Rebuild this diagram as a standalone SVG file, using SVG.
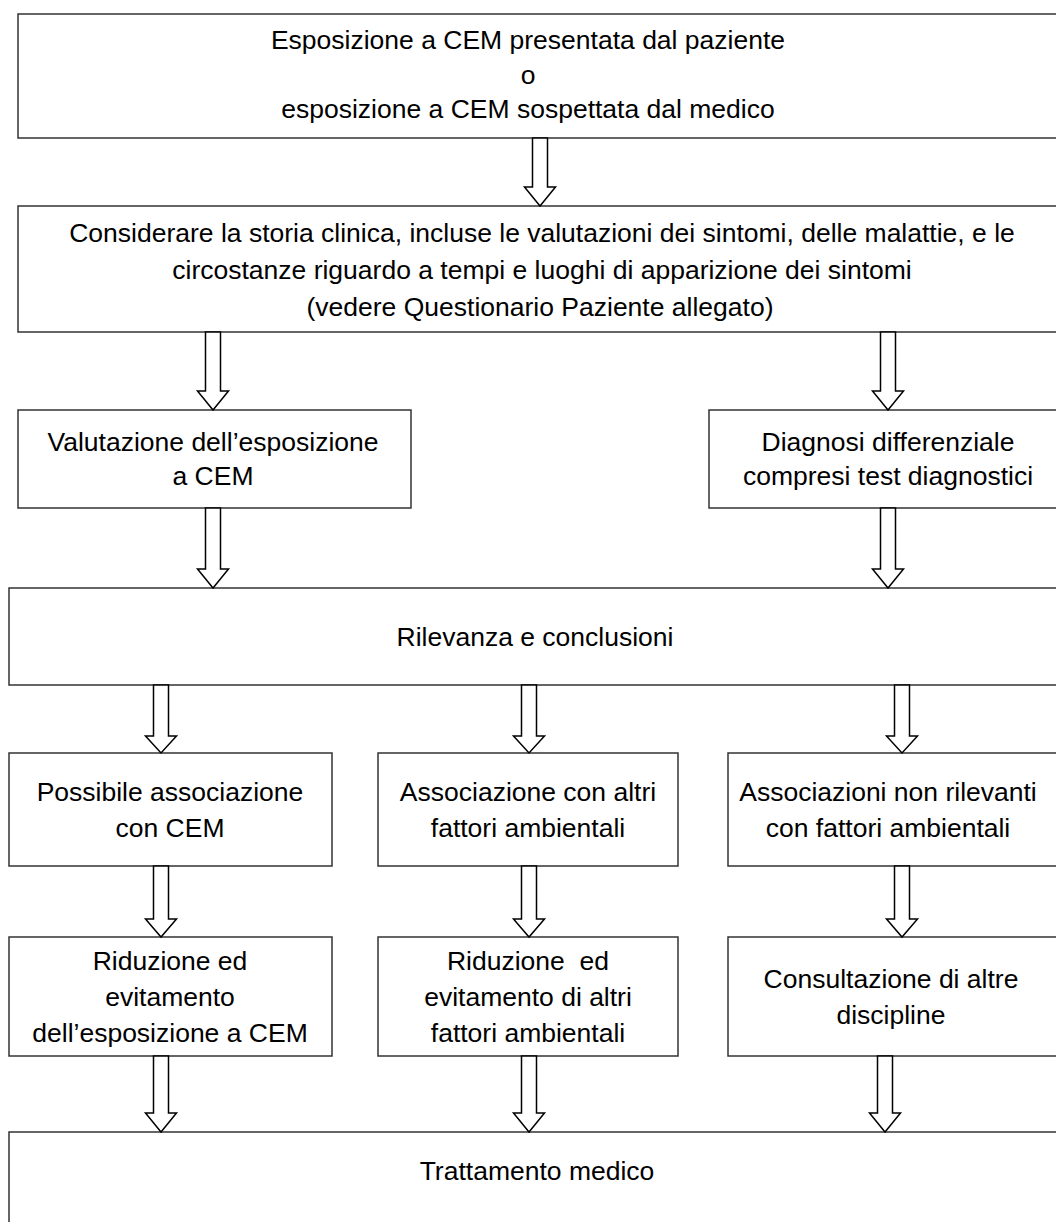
<svg xmlns="http://www.w3.org/2000/svg" width="1056" height="1222" viewBox="0 0 1056 1222">
<style>
.box{fill:#fff;stroke:#333;stroke-width:1.5}
.arr{fill:#fff;stroke:#000;stroke-width:1.5;stroke-linejoin:miter}
text{font-family:"Liberation Sans",Arial,sans-serif;font-size:26.5px;fill:#000;text-anchor:middle}
</style>
<rect width="1056" height="1222" fill="#fff"/>
<g id="n1"><rect class="box" x="18" y="14" width="1060" height="124"/>
<text x="528" y="49">Esposizione a CEM presentata dal paziente</text>
<text x="528" y="84">o</text>
<text x="528" y="118">esposizione a CEM sospettata dal medico</text></g>
<g id="n2"><rect class="box" x="18" y="206" width="1060" height="126"/>
<text x="542" y="242">Considerare la storia clinica, incluse le valutazioni dei sintomi, delle malattie, e le</text>
<text x="542" y="279">circostanze riguardo a tempi e luoghi di apparizione dei sintomi</text>
<text x="540" y="316">(vedere Questionario Paziente allegato)</text></g>
<g id="n3"><rect class="box" x="18" y="410" width="393" height="98"/>
<text x="213" y="451">Valutazione dell’esposizione</text>
<text x="213" y="485">a CEM</text></g>
<g id="n4"><rect class="box" x="709" y="410" width="360" height="98"/>
<text x="888" y="451">Diagnosi differenziale</text>
<text x="888" y="485">compresi test diagnostici</text></g>
<g id="n5"><rect class="box" x="9" y="588" width="1070" height="97"/>
<text x="535" y="646">Rilevanza e conclusioni</text></g>
<g id="n6"><rect class="box" x="9" y="753" width="323" height="113"/>
<text x="170" y="801">Possibile associazione</text>
<text x="170" y="837">con CEM</text></g>
<g id="n7"><rect class="box" x="378" y="753" width="300" height="113"/>
<text x="528" y="801">Associazione con altri</text>
<text x="528" y="837">fattori ambientali</text></g>
<g id="n8"><rect class="box" x="728" y="753" width="340" height="113"/>
<text x="888" y="801">Associazioni non rilevanti</text>
<text x="888" y="837">con fattori ambientali</text></g>
<g id="n9"><rect class="box" x="9" y="937" width="323" height="119"/>
<text x="170" y="970">Riduzione ed</text>
<text x="170" y="1006">evitamento</text>
<text x="170" y="1042">dell’esposizione a CEM</text></g>
<g id="n10"><rect class="box" x="378" y="937" width="300" height="119"/>
<text x="528" y="970" xml:space="preserve">Riduzione  ed</text>
<text x="528" y="1006">evitamento di altri</text>
<text x="528" y="1042">fattori ambientali</text></g>
<g id="n11"><rect class="box" x="728" y="937" width="340" height="119"/>
<text x="891" y="988">Consultazione di altre</text>
<text x="891" y="1024">discipline</text></g>
<g id="n12"><rect class="box" x="9" y="1132" width="1070" height="100"/>
<text x="537" y="1180">Trattamento medico</text></g>
<g id="connectors">
<polygon class="arr" points="532.5,138 547.5,138 547.5,187 555.5,187 540,206 524.5,187 532.5,187"/>
<polygon class="arr" points="205.5,332 220.5,332 220.5,391 228.5,391 213,410 197.5,391 205.5,391"/>
<polygon class="arr" points="880.5,332 895.5,332 895.5,391 903.5,391 888,410 872.5,391 880.5,391"/>
<polygon class="arr" points="205.5,508 220.5,508 220.5,569 228.5,569 213,588 197.5,569 205.5,569"/>
<polygon class="arr" points="880.5,508 895.5,508 895.5,569 903.5,569 888,588 872.5,569 880.5,569"/>
<polygon class="arr" points="153.5,685 168.5,685 168.5,736 176.5,736 161,753 145.5,736 153.5,736"/>
<polygon class="arr" points="521.5,685 536.5,685 536.5,736 544.5,736 529,753 513.5,736 521.5,736"/>
<polygon class="arr" points="894.5,685 909.5,685 909.5,736 917.5,736 902,753 886.5,736 894.5,736"/>
<polygon class="arr" points="153.5,866 168.5,866 168.5,919 176.5,919 161,937 145.5,919 153.5,919"/>
<polygon class="arr" points="521.5,866 536.5,866 536.5,919 544.5,919 529,937 513.5,919 521.5,919"/>
<polygon class="arr" points="894.5,866 909.5,866 909.5,919 917.5,919 902,937 886.5,919 894.5,919"/>
<polygon class="arr" points="153.5,1056 168.5,1056 168.5,1113 176.5,1113 161,1132 145.5,1113 153.5,1113"/>
<polygon class="arr" points="521.5,1056 536.5,1056 536.5,1113 544.5,1113 529,1132 513.5,1113 521.5,1113"/>
<polygon class="arr" points="877.5,1056 892.5,1056 892.5,1113 900.5,1113 885,1132 869.5,1113 877.5,1113"/>
</g>
</svg>
